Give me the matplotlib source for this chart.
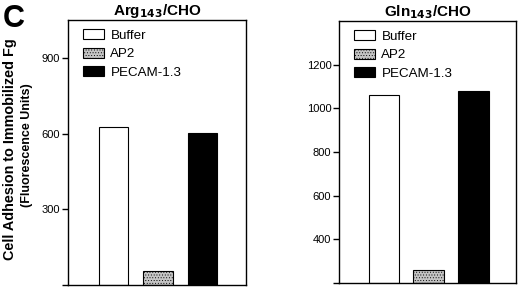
import matplotlib
matplotlib.use("Agg")
import matplotlib.pyplot as plt
from matplotlib.patches import Patch

plt.rcParams['font.family'] = ['Liberation Sans', 'DejaVu Sans']
plt.rcParams['hatch.linewidth'] = 0.35

categories = ["Buffer", "AP2", "PECAM-1.3"]
arg_values = [628, 55, 602]
gln_values = [1060, 260, 1078]
arg_ticks = [0, 300, 600, 900]
arg_ticklabels = ["", "300", "600", "900"]
gln_ticks = [200, 400, 600, 800, 1000, 1200]
gln_ticklabels = ["", "400", "600", "800", "1000", "1200"]

facecolors = ["white", "#c4c4c4", "black"]
hatches = [None, "......", None]

W, H = 520, 288
fig = plt.figure(figsize=(W / 100, H / 100), dpi=100)

def axes_px(l, r, t, b):
    return fig.add_axes([l / W, 1 - b / H, (r - l) / W, (b - t) / H])

ax1 = axes_px(68, 246, 20, 285)
ax2 = axes_px(339, 516, 21, 283)

def draw(ax, values, ticks, ticklabels, ylim, xlim, width, title):
    for i, v in enumerate(values):
        ax.bar(i, v - ylim[0], bottom=ylim[0], width=width, color=facecolors[i],
               edgecolor="black", linewidth=0.8, hatch=hatches[i], zorder=2)
    ax.set_ylim(*ylim)
    ax.set_xlim(*xlim)
    ax.set_xticks([])
    ax.set_yticks(ticks)
    ax.set_yticklabels(ticklabels, fontsize=8)
    ax.tick_params(axis='y', length=4.5, width=1.0, pad=1)
    for s in ax.spines.values():
        s.set_linewidth(1.0)
    ax.set_title(title, fontsize=11, fontweight='bold', pad=2)
    handles = [Patch(facecolor=facecolors[i], edgecolor="black", linewidth=0.8,
                     hatch=hatches[i]) for i in range(len(categories))]
    ax.legend(handles, categories, loc='upper left', bbox_to_anchor=(0.07, 0.975),
              frameon=False, fontsize=9.6, handlelength=1.6, handleheight=0.75,
              handletextpad=0.45, labelspacing=0.45, borderaxespad=0, borderpad=0.2)

draw(ax1, arg_values, arg_ticks, arg_ticklabels, (0, 1050), (-1.02, 2.98), 0.66,
     "Arg$_{\\mathbf{143}}$/CHO")
draw(ax2, gln_values, gln_ticks, gln_ticklabels, (200, 1400), (-1.0, 2.95), 0.68,
     "Gln$_{\\mathbf{143}}$/CHO")

fig.text(10 / W, 1 - 149 / H, "Cell Adhesion to Immobilized Fg", rotation=90,
         fontsize=10.4, fontweight='bold', ha='center', va='center')
fig.text(27 / W, 1 - 145 / H, "(Fluorescence Units)", rotation=90,
         fontsize=9.0, fontweight='bold', ha='center', va='center')
fig.text(3 / W, 1 - 27 / H, "C", fontsize=22, fontweight='bold', ha='left', va='baseline')

fig.savefig("out.png", dpi=100)
